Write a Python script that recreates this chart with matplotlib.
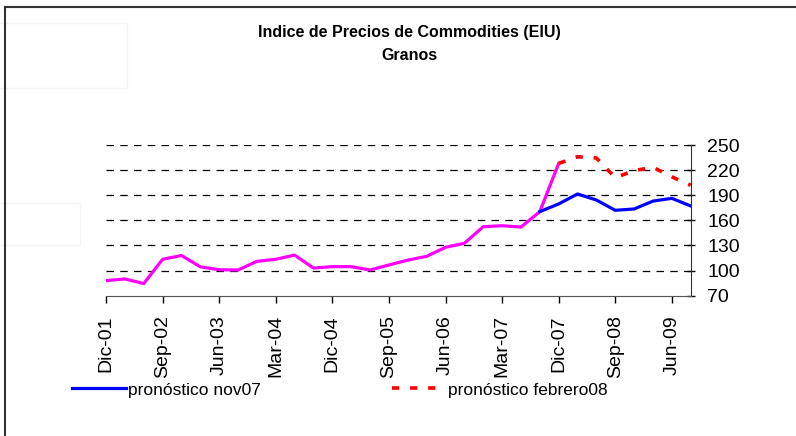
import matplotlib
matplotlib.use("Agg")
import matplotlib.pyplot as plt
from matplotlib.lines import Line2D
from matplotlib.patches import Rectangle

plt.rcParams["font.family"] = ["Liberation Sans", "DejaVu Sans"]

# quarterly periods, Dic-01 .. Sep-09
quarters = ["Dic-01", "Mar-02", "Jun-02", "Sep-02", "Dic-02", "Mar-03", "Jun-03", "Sep-03",
            "Dic-03", "Mar-04", "Jun-04", "Sep-04", "Dic-04", "Mar-05", "Jun-05", "Sep-05",
            "Dic-05", "Mar-06", "Jun-06", "Sep-06", "Dic-06", "Mar-07", "Jun-07", "Sep-07",
            "Dic-07", "Mar-08", "Jun-08", "Sep-08", "Dic-08", "Mar-09", "Jun-09", "Sep-09"]
hist = [88, 90, 84.5, 113.5, 118, 104.5, 101, 100.7, 111, 113.5, 118.5, 103, 104.7,
        104.7, 100.7, 106.7, 112.5, 117, 127.8, 132.6, 152.4, 153.6, 152, 170.4, 228]
nov07 = [170.4, 179.6, 191.5, 184.3, 172, 173.6, 183, 186.3, 177.2]
feb08 = [228, 236, 234.5, 211, 219.4, 223.4, 212, 202]
yticks = [70, 100, 130, 160, 190, 220, 250]

x_hist = list(range(len(hist)))
x_nov = list(range(23, 23 + len(nov07)))
x_feb = list(range(24, 24 + len(feb08)))

fig = plt.figure(figsize=(7.96, 4.36), dpi=100)
ax = fig.add_axes([0.1332, 0.3218, 0.8677 - 0.1332, 0.6674 - 0.3218])

# faint background boxes / outer frame
fig.add_artist(Rectangle((-0.01, 1 - 88 / 436), 135 / 796, 65 / 436, transform=fig.transFigure,
                         fill=False, ec="#f3f3f3", lw=1))
fig.add_artist(Rectangle((-0.01, 1 - 245 / 436), 88 / 796, 42 / 436, transform=fig.transFigure,
                         fill=False, ec="#f5f5f5", lw=1))
fig.add_artist(Line2D([5 / 796, 5 / 796], [0, 1 - 7 / 436], transform=fig.transFigure,
                      color="#333333", lw=1.5))
fig.add_artist(Line2D([5 / 796, 1], [1 - 7 / 436, 1 - 7 / 436], transform=fig.transFigure,
                      color="#333333", lw=1.5))

for y in yticks[1:]:
    ax.axhline(y, color="black", lw=0.9, ls=(0, (6, 5)), zorder=1)

ax.plot(x_hist, hist, color="#FF00FF", lw=2.3, zorder=3)
ax.plot(x_nov, nov07, color="#0000FF", lw=2.3, zorder=4)
ax.plot(x_feb, feb08, color="#FF0000", lw=2.6, ls=(0, (2, 3)), zorder=4)

ax.set_xlim(0, len(quarters) - 1)
ax.set_ylim(70, 250)
ax.set_xticks(range(0, len(quarters), 3))
ax.set_xticklabels(quarters[::3], rotation=90, fontsize=14)
ax.set_yticks(yticks)
ax.set_yticklabels([str(v) for v in yticks], fontsize=14)
ax.yaxis.tick_right()
ax.tick_params(axis="y", direction="inout", length=6, width=1, pad=9, colors="black")
ax.tick_params(axis="x", direction="out", length=5, width=1, pad=9)
for s in ("top", "left"):
    ax.spines[s].set_visible(False)
ax.spines["bottom"].set_color("#555555")
ax.spines["right"].set_color("#333333")
ax.patch.set_alpha(0)

fig.text(0.514, 1 - 32 / 436, "Indice de Precios de Commodities (EIU)", ha="center", va="center",
         fontsize=11.5, fontweight="bold")
fig.text(0.514, 1 - 55 / 436, "Granos", ha="center", va="center", fontsize=11.5,
         fontweight="bold")

h1 = Line2D([], [], color="#0000FF", lw=2.3)
h2 = Line2D([], [], color="#FF0000", lw=2.6, ls=(0, (2, 3)))
fig.legend([h1], ["pronóstico nov07"], loc="center left", bbox_to_anchor=(72 / 796, 1 - 390 / 436),
           frameon=False, fontsize=12.5, handlelength=3.1, handletextpad=0.1, borderpad=0,
           borderaxespad=0)
fig.legend([h2], ["pronóstico febrero08"], loc="center left",
           bbox_to_anchor=(392 / 796, 1 - 390 / 436), frameon=False, fontsize=12.5,
           handlelength=3.1, handletextpad=0.1, borderpad=0, borderaxespad=0)

fig.savefig("out.png", dpi=100)
